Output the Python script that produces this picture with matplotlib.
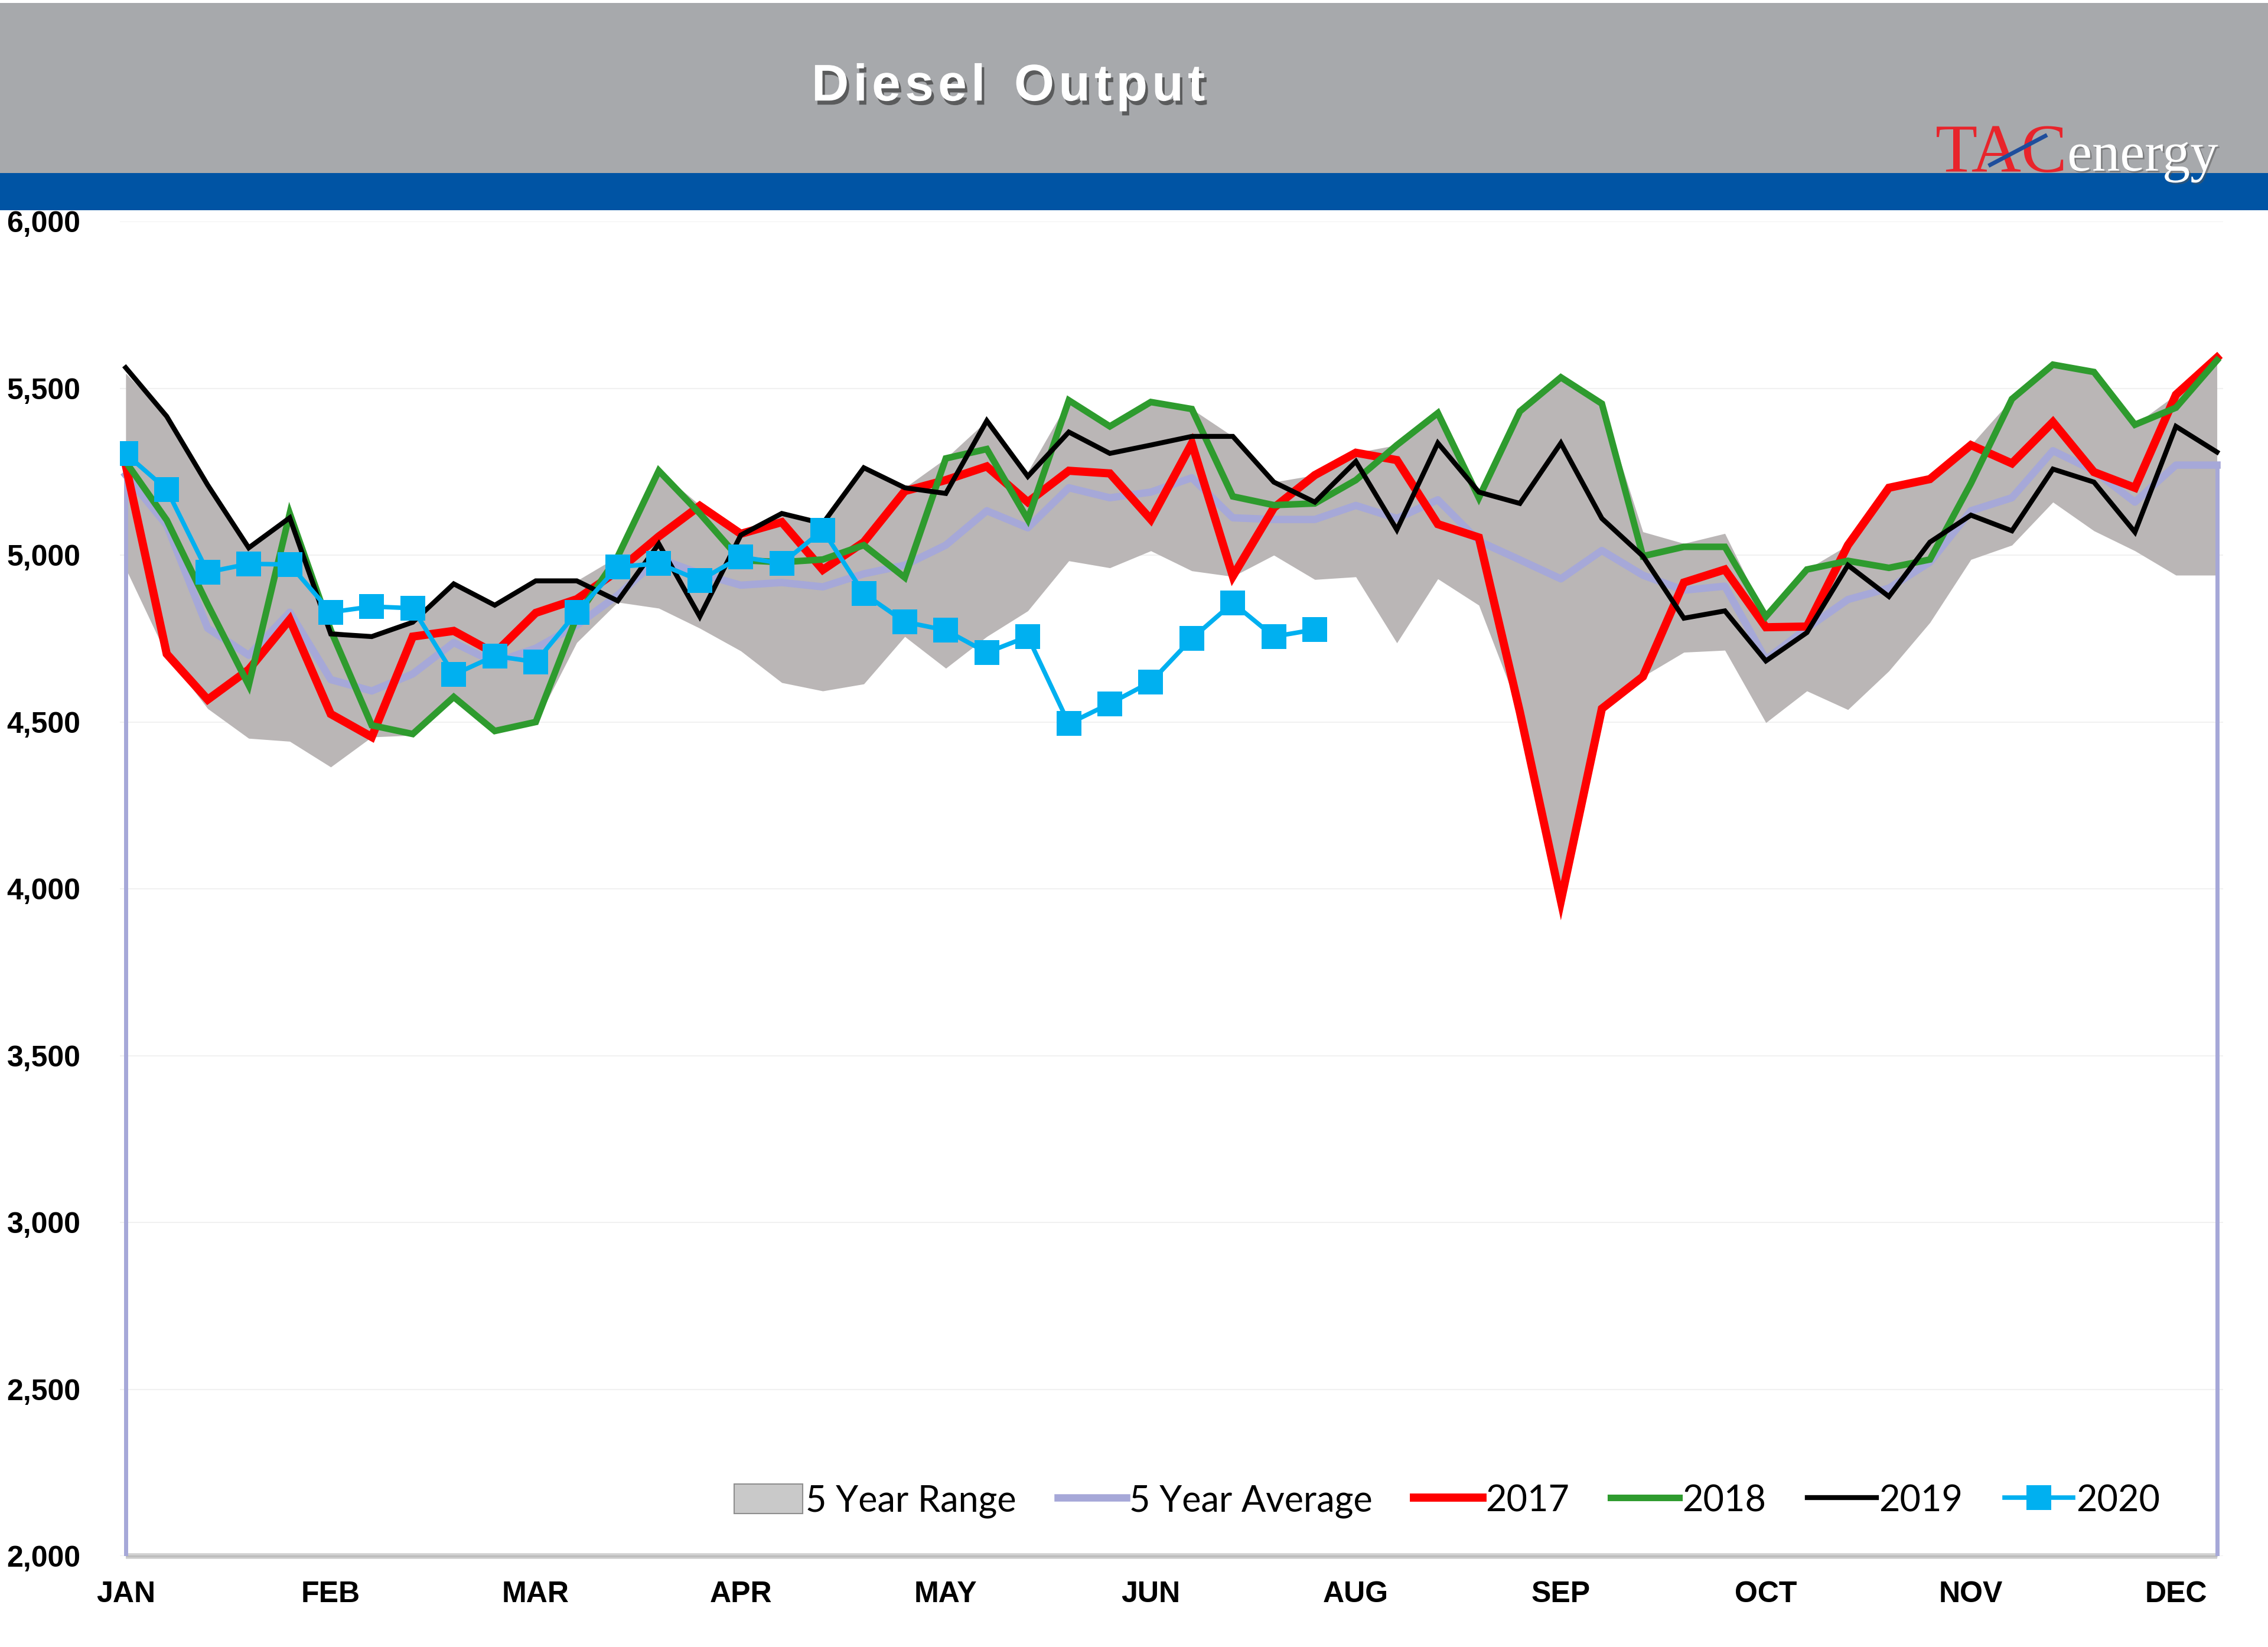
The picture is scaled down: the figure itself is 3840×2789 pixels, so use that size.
import matplotlib
matplotlib.use('Agg')
import matplotlib.pyplot as plt
import matplotlib.patheffects as pe
from matplotlib.lines import Line2D
from matplotlib.patches import Patch, Rectangle

# ---------------- data (weekly, 52 weeks) ----------------
weeks = list(range(52))
month_ticks = [0, 5, 10, 15, 20, 25, 30, 35, 40, 45, 50]
month_labels = ['JAN', 'FEB', 'MAR', 'APR', 'MAY', 'JUN', 'AUG', 'SEP', 'OCT', 'NOV', 'DEC']

range_low = [4960, 4700, 4540, 4451, 4442, 4365, 4455, 4460, 4570, 4470,
             4498, 4738, 4859, 4841, 4781, 4713, 4618, 4593, 4614, 4756,
             4661, 4756, 4833, 4983, 4962, 5013, 4953, 4936, 5000, 4927,
             4935, 4737, 4929, 4850, 4530, 3964, 4540, 4636, 4709, 4715,
             4498, 4593, 4537, 4653, 4798, 4987, 5030, 5159, 5073, 5013,
             4940, 4940]
range_high = [5545, 5416, 5210, 5022, 5125, 4775, 4756, 4799, 4914, 4850,
              4923, 4923, 4996, 5253, 5150, 5064, 5125, 5095, 5262, 5202,
              5290, 5403, 5250, 5464, 5386, 5459, 5438, 5356, 5219, 5240,
              5307, 5330, 5426, 5194, 5431, 5533, 5454, 5070, 5035, 5065,
              4816, 4957, 5030, 5202, 5228, 5330, 5468, 5571, 5549, 5391,
              5481, 5592]
avg_5yr = [5240, 5090, 4781, 4700, 4829, 4627, 4593, 4644, 4738, 4678,
           4721, 4790, 4880, 4990, 4945, 4910, 4918, 4905, 4944, 4970,
           5030, 5133, 5082, 5202, 5172, 5189, 5232, 5112, 5107, 5107,
           5149, 5110, 5166, 5042, 4986, 4929, 5014, 4940, 4895, 4907,
           4687, 4781, 4867, 4901, 4979, 5133, 5172, 5313, 5253, 5159,
           5270, 5270]
y2017 = [5270, 4704, 4567, 4657, 4807, 4524, 4455, 4756, 4773, 4706,
         4827, 4868, 4953, 5056, 5148, 5064, 5099, 4956, 5039, 5192,
         5225, 5266, 5159, 5253, 5245, 5107, 5335, 4937, 5142, 5240,
         5307, 5285, 5093, 5053, 4530, 3964, 4540, 4636, 4918, 4957,
         4784, 4786, 5030, 5202, 5228, 5330, 5275, 5399, 5249, 5202,
         5481, 5592]
y2018 = [5280, 5105, 4852, 4610, 5125, 4775, 4490, 4464, 4575, 4473,
         4500, 4816, 4996, 5253, 5125, 4985, 4979, 4987, 5030, 4933,
         5290, 5318, 5107, 5464, 5386, 5459, 5438, 5176, 5150, 5155,
         5225, 5330, 5426, 5172, 5431, 5533, 5454, 4997, 5025, 5025,
         4816, 4957, 4983, 4962, 4987, 5215, 5468, 5571, 5549, 5391,
         5442, 5584]
y2019 = [5562, 5416, 5210, 5022, 5112, 4764, 4756, 4799, 4914, 4850,
         4923, 4923, 4863, 5034, 4816, 5060, 5125, 5095, 5262, 5202,
         5185, 5403, 5236, 5369, 5305, 5330, 5356, 5356, 5219, 5159,
         5281, 5076, 5336, 5189, 5155, 5336, 5110, 4997, 4811, 4833,
         4683, 4768, 4970, 4876, 5039, 5120, 5073, 5258, 5219, 5069,
         5386, 5309]
y2020 = [5304, 5197, 4949, 4974, 4972, 4829, 4846, 4841, 4642, 4698,
         4680, 4829, 4965, 4975, 4924, 4995, 4975, 5075, 4885, 4800,
         4775, 4708, 4756, 4495, 4555, 4620, 4750, 4857, 4756, 4777]
weeks_2020 = weeks[:len(y2020)]

yticks = [2000, 2500, 3000, 3500, 4000, 4500, 5000, 5500, 6000]

# ---------------- styling ----------------
C_RANGE = '#BAB6B6'
C_AVG = '#A6A8D8'
C_2017 = '#FF0000'
C_2018 = '#2E9B2E'
C_2019 = '#000000'
C_2020 = '#00B0F0'
TICK_FONT = 'Liberation Sans'

fig = plt.figure(figsize=(38.4, 27.89), dpi=100)
fig.patch.set_facecolor('white')

# header bands
fig.add_artist(Rectangle((0, 0.8949), 1, 0.1033, transform=fig.transFigure,
                         facecolor='#A7A9AC', edgecolor='none', zorder=0))
fig.add_artist(Rectangle((0, 0.8724), 1, 0.0225, transform=fig.transFigure,
                         facecolor='#0054A4', edgecolor='none', zorder=1))

# title (slightly letter-spaced with hair spaces)
hs = '\u200a'
title = hs.join('Diesel') + '  ' + hs.join('Output')
fig.text(0.4445, 0.947, title, ha='center', va='center',
         color='white', fontsize=63, fontweight='bold', family=TICK_FONT,
         path_effects=[pe.withSimplePatchShadow(offset=(3, -5), shadow_rgbFace='#3A3A3A', alpha=0.7)])

# logo
fig.text(0.8533, 0.8957, 'TAC', ha='left', va='baseline', color='#E8242B',
         fontsize=84, family='Liberation Serif', zorder=3)
fig.text(0.9115, 0.8964, 'energy', ha='left', va='baseline', color='white',
         fontsize=68, family='Liberation Serif', zorder=3,
         path_effects=[pe.withSimplePatchShadow(offset=(2, -2), shadow_rgbFace='#555555', alpha=0.5)])
fig.add_artist(Line2D([1376 / 1568, 1414 / 1568], [1 - 114 / 1139, 1 - 94 / 1139],
                      transform=fig.transFigure, color='#1F4E9C', lw=5, zorder=4))

ax = fig.add_axes([0.0529, 0.0552, 0.9273, 0.8103])
ax.set_xlim(-0.14, 51.15)
ax.set_ylim(2000, 6000)
for s in ax.spines.values():
    s.set_visible(False)

ax.yaxis.grid(True, color='#F1F1F1', lw=1.5)
ax.set_axisbelow(True)

ax.fill_between(weeks, range_low, range_high, color=C_RANGE, lw=0, zorder=2)
# average series drawn as an area outline (vertical edges at both ends)
ax.vlines([weeks[0], weeks[-1]], 2000, [avg_5yr[0], avg_5yr[-1]], color=C_AVG, lw=5, zorder=3)
ax.plot(weeks, avg_5yr, color=C_AVG, lw=9, zorder=3, solid_joinstyle='round')
ax.plot(weeks, y2017, color=C_2017, lw=10, zorder=4, solid_joinstyle='miter')
ax.plot(weeks, y2018, color=C_2018, lw=8, zorder=5, solid_joinstyle='miter')
ax.plot(weeks, y2019, color=C_2019, lw=6, zorder=6, solid_joinstyle='miter')
ax.plot(weeks_2020, y2020, color=C_2020, lw=5.5, marker='s', markersize=30,
        markeredgewidth=0, zorder=7)

# bottom shadow line
ax.plot([weeks[0], weeks[-1]], [2000, 2000], color='#D2D2D2', lw=7, zorder=1, clip_on=False,
        solid_capstyle='butt')
ax.plot([weeks[0], weeks[-1]], [2000, 2000], color='#BDBDBD', lw=2.5, zorder=1, clip_on=False,
        solid_capstyle='butt')

ax.set_yticks(yticks)
ax.set_yticklabels([f'{v:,}' for v in yticks], fontsize=36, fontweight='bold', family=TICK_FONT)
ax.set_xticks(month_ticks)
ax.set_xticklabels(month_labels, fontsize=36, fontweight='bold', family=TICK_FONT)
ax.tick_params(axis='y', length=0, pad=48)
ax.tick_params(axis='x', length=0, pad=30)

handles = [
    Patch(facecolor='#C9C9C9', edgecolor='#8E8E8E', lw=1.5),
    Line2D([], [], color=C_AVG, lw=9),
    Line2D([], [], color=C_2017, lw=10),
    Line2D([], [], color=C_2018, lw=8),
    Line2D([], [], color=C_2019, lw=6),
    Line2D([], [], color=C_2020, lw=5.5, marker='s', markersize=30, markeredgewidth=0),
]
labels = ['5 Year Range', '5 Year Average', '2017', '2018', '2019', '2020']
fig.legend(handles, labels, loc='center', bbox_to_anchor=(0.638, 0.0887), ncol=6,
           frameon=False, prop={'family': 'Lato', 'size': 44},
           handlelength=1.9, handletextpad=0.08, columnspacing=1.15, handleheight=0.9)

fig.savefig('out.png', dpi=100, facecolor='white')
